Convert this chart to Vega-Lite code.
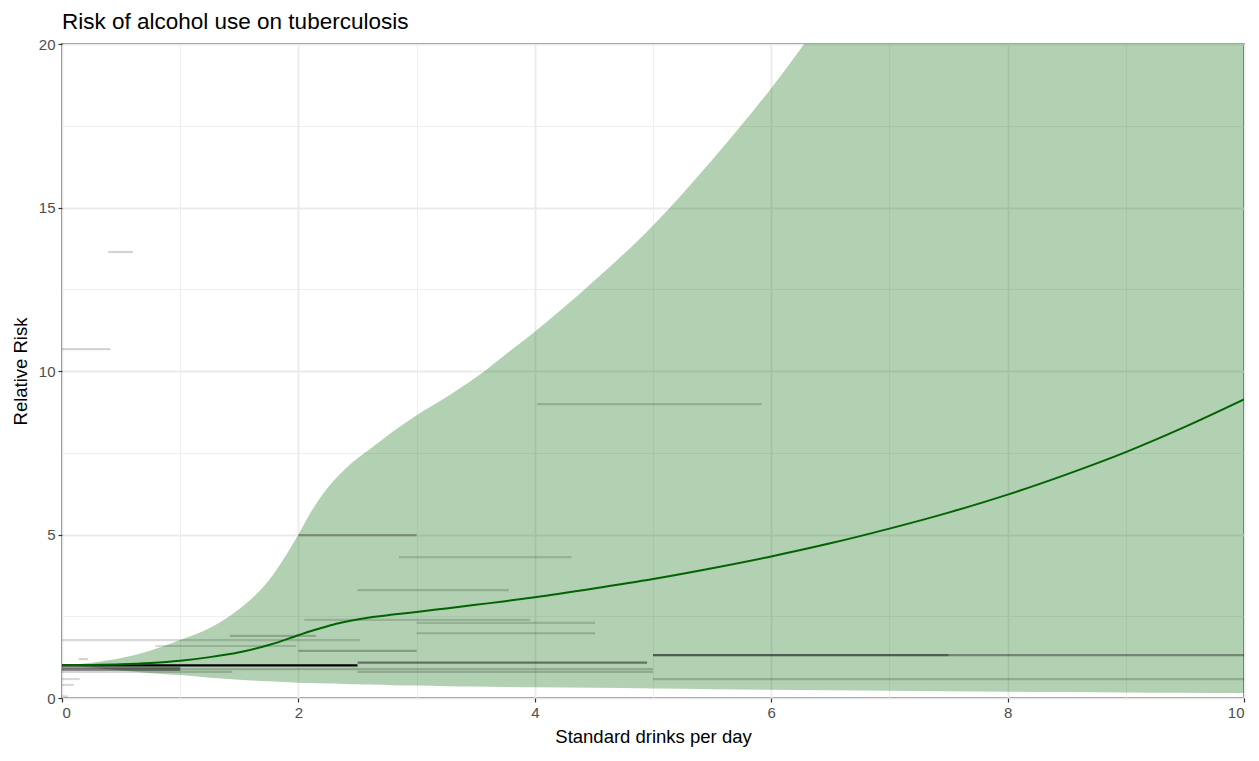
{
  "$schema": "https://vega.github.io/schema/vega-lite/v6.json",
  "autosize": {"type": "none"},
  "width": 1182,
  "height": 654,
  "padding": {"left": 62, "top": 44, "right": 15, "bottom": 63},
  "background": "white",
  "title": {"text": "Risk of alcohol use on tuberculosis", "anchor": "start", "frame": "group", "font": "Liberation Sans", "fontSize": 22.5, "fontWeight": "normal", "color": "black", "offset": 4},
  "config": {
    "view": {"stroke": "#333333", "strokeWidth": 1.5},
    "axis": {"labelFont": "Liberation Sans", "titleFont": "Liberation Sans", "labelFontSize": 15, "titleFontSize": 18.5, "titleFontWeight": "normal", "labelColor": "#4d4d4d", "titleColor": "black", "tickColor": "#333333", "tickSize": 4, "tickWidth": 1.2, "domain": false, "gridColor": "#ebebeb"}
  },
  "datasets": {
    "curve": [
      {"x": 0, "mean": 1.0, "lower": 1.0, "upper": 1.0},
      {"x": 0.25, "mean": 1.01, "lower": 0.93, "upper": 1.08},
      {"x": 0.5, "mean": 1.03, "lower": 0.84, "upper": 1.22},
      {"x": 0.75, "mean": 1.07, "lower": 0.76, "upper": 1.45},
      {"x": 1.0, "mean": 1.14, "lower": 0.7, "upper": 1.77},
      {"x": 1.25, "mean": 1.25, "lower": 0.62, "upper": 2.14},
      {"x": 1.5, "mean": 1.4, "lower": 0.56, "upper": 2.72},
      {"x": 1.75, "mean": 1.62, "lower": 0.51, "upper": 3.6},
      {"x": 2.0, "mean": 1.92, "lower": 0.47, "upper": 5.0},
      {"x": 2.1, "mean": 2.04, "lower": 0.46, "upper": 5.65},
      {"x": 2.2, "mean": 2.15, "lower": 0.45, "upper": 6.2},
      {"x": 2.3, "mean": 2.25, "lower": 0.44, "upper": 6.65},
      {"x": 2.4, "mean": 2.33, "lower": 0.43, "upper": 7.02},
      {"x": 2.5, "mean": 2.4, "lower": 0.42, "upper": 7.33},
      {"x": 2.6, "mean": 2.46, "lower": 0.41, "upper": 7.6},
      {"x": 2.8, "mean": 2.55, "lower": 0.39, "upper": 8.15},
      {"x": 3.0, "mean": 2.63, "lower": 0.38, "upper": 8.65},
      {"x": 3.25, "mean": 2.74, "lower": 0.36, "upper": 9.2},
      {"x": 3.5, "mean": 2.85, "lower": 0.35, "upper": 9.8},
      {"x": 3.75, "mean": 2.96, "lower": 0.34, "upper": 10.5},
      {"x": 4.0, "mean": 3.08, "lower": 0.33, "upper": 11.2},
      {"x": 4.5, "mean": 3.35, "lower": 0.31, "upper": 12.75},
      {"x": 5.0, "mean": 3.64, "lower": 0.29, "upper": 14.45},
      {"x": 5.5, "mean": 3.97, "lower": 0.27, "upper": 16.45},
      {"x": 6.0, "mean": 4.33, "lower": 0.25, "upper": 18.65},
      {"x": 6.5, "mean": 4.73, "lower": 0.235, "upper": 21.1},
      {"x": 7.0, "mean": 5.18, "lower": 0.22, "upper": 23.6},
      {"x": 7.5, "mean": 5.67, "lower": 0.205, "upper": 26.0},
      {"x": 8.0, "mean": 6.22, "lower": 0.19, "upper": 28.5},
      {"x": 8.5, "mean": 6.84, "lower": 0.18, "upper": 31.2},
      {"x": 9.0, "mean": 7.52, "lower": 0.17, "upper": 34.0},
      {"x": 9.5, "mean": 8.29, "lower": 0.16, "upper": 37.0},
      {"x": 10.0, "mean": 9.13, "lower": 0.15, "upper": 40.0}
    ],
    "segments": [
      {"start": 0.39, "end": 0.6, "rr": 13.64, "weight": 0.17},
      {"start": 0.0, "end": 0.41, "rr": 10.67, "weight": 0.17},
      {"start": 4.02, "end": 5.92, "rr": 8.99, "weight": 0.17},
      {"start": 2.0, "end": 3.0, "rr": 4.98, "weight": 0.28},
      {"start": 2.85, "end": 4.31, "rr": 4.31, "weight": 0.15},
      {"start": 2.5, "end": 3.78, "rr": 3.3, "weight": 0.17},
      {"start": 2.05, "end": 3.96, "rr": 2.39, "weight": 0.15},
      {"start": 3.0, "end": 4.51, "rr": 2.3, "weight": 0.15},
      {"start": 3.0, "end": 4.51, "rr": 1.98, "weight": 0.18},
      {"start": 1.42, "end": 2.15, "rr": 1.9, "weight": 0.2},
      {"start": 0.0, "end": 2.52, "rr": 1.77, "weight": 0.15},
      {"start": 0.79, "end": 1.98, "rr": 1.59, "weight": 0.15},
      {"start": 2.0, "end": 3.0, "rr": 1.44, "weight": 0.25},
      {"start": 5.0, "end": 7.5, "rr": 1.31, "weight": 0.3},
      {"start": 5.0, "end": 10.0, "rr": 1.31, "weight": 0.35},
      {"start": 2.5, "end": 4.95, "rr": 1.08, "weight": 0.45},
      {"start": 0.14, "end": 0.22, "rr": 1.19, "weight": 0.17},
      {"start": 0.0, "end": 0.15, "rr": 0.58, "weight": 0.15},
      {"start": 0.0, "end": 0.1, "rr": 0.4, "weight": 0.15},
      {"start": 0.0, "end": 0.05, "rr": 0.05, "weight": 0.15},
      {"start": 0.0, "end": 1.0, "rr": 0.92, "weight": 0.4},
      {"start": 0.0, "end": 1.0, "rr": 0.86, "weight": 0.4},
      {"start": 0.0, "end": 1.44, "rr": 0.8, "weight": 0.17},
      {"start": 0.0, "end": 5.0, "rr": 0.88, "weight": 0.18},
      {"start": 2.5, "end": 5.0, "rr": 0.8, "weight": 0.18},
      {"start": 5.0, "end": 10.0, "rr": 0.58, "weight": 0.18},
      {"start": 0.0, "end": 2.5, "rr": 1.0, "weight": 1.0}
    ]
  },
  "encoding": {
    "x": {"type": "quantitative", "scale": {"domain": [0, 10], "nice": false, "zero": false},
      "axis": {"title": "Standard drinks per day", "values": [0,1,2,3,4,5,6,7,8,9,10], "labelExpr": "datum.value % 2 === 0 ? datum.label : ''", "tickOpacity": {"condition": {"test": "datum.value % 2 === 0", "value": 1}, "value": 0}, "gridWidth": {"condition": {"test": "datum.value % 2 === 0", "value": 1.8}, "value": 0.8}, "titlePadding": 7, "labelPadding": 3}},
    "y": {"type": "quantitative", "scale": {"domain": [0, 20], "nice": false, "zero": false},
      "axis": {"title": "Relative Risk", "values": [0,2.5,5,7.5,10,12.5,15,17.5,20], "labelExpr": "datum.value % 5 === 0 ? datum.label : ''", "tickOpacity": {"condition": {"test": "datum.value % 5 === 0", "value": 1}, "value": 0}, "gridWidth": {"condition": {"test": "datum.value % 5 === 0", "value": 1.8}, "value": 0.8}, "titlePadding": 8, "labelPadding": 3}}
  },
  "layer": [
    {
      "data": {"name": "curve"},
      "mark": {"type": "area", "color": "#006400", "opacity": 0.3, "clip": true, "interpolate": "monotone"},
      "encoding": {"x": {"field": "x"}, "y": {"field": "lower"}, "y2": {"field": "upper"}}
    },
    {
      "data": {"name": "segments"},
      "mark": {"type": "rule", "color": "black", "strokeWidth": 2.2},
      "encoding": {
        "x": {"field": "start"}, "x2": {"field": "end"}, "y": {"field": "rr"},
        "opacity": {"field": "weight", "type": "quantitative", "scale": {"domain": [0, 1], "range": [0, 1]}, "legend": null}
      }
    },
    {
      "data": {"name": "curve"},
      "mark": {"type": "line", "color": "#006400", "strokeWidth": 2, "interpolate": "monotone", "clip": true},
      "encoding": {"x": {"field": "x"}, "y": {"field": "mean"}}
    },
    {
      "mark": {"type": "rule", "color": "black", "strokeWidth": 2.2, "strokeDash": [8, 6]},
      "encoding": {"y": {"datum": 1}}
    }
  ]
}
